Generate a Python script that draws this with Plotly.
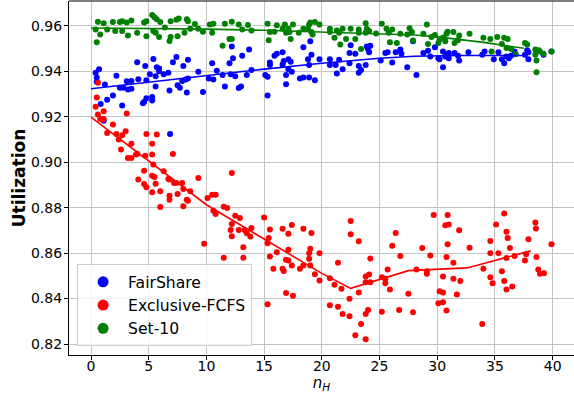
import plotly.graph_objects as go

# ---------------- data ----------------
fair_x = [0.4,0.7,0.5,0.5,1.2,1.9,1.4,2.2,2.5,2.8,3.1,3.2,3.5,3.5,4.0,4.1,4.7,4.8,4.8,5.3,5.1,5.4,5.6,5.6,5.7,5.9,5.9,6.3,6.7,6.8,7.1,7.4,7.5,7.7,7.9,8.0,8.2,8.3,8.4,8.4,9.3,9.7,10.5,10.2,10.6,10.9,11.4,11.6,12.0,12.1,12.2,12.3,12.5,12.8,13.0,13.1,
          0.84,2.7,4.5,4.6,5.3,1.1,6.85,
          13.7,13.5,13.9,15.1,15.3,15.3,15.5,15.5,15.9,16.1,16.6,16.6,16.7,16.9,16.9,17.1,17.3,17.1,17.4,18.1,18.4,18.4,18.8,18.9,19.0,19.1,18.9,19.4,19.8,20.7,20.7,21.2,21.3,21.5,21.8,22.4,22.5,22.4,22.9,23.2,23.2,23.4,23.8,23.9,24.0,24.2,24.1,25.1,25.5,25.7,26.1,26.4,26.8,26.9,27.4,27.9,
          28.2,28.8,29.2,29.4,29.8,30.1,30.2,30.5,30.5,30.7,30.8,31.0,31.0,31.5,31.8,31.9,32.7,33.9,34.1,34.9,35.3,35.6,35.8,36.0,36.2,36.4,36.7,37.6,37.8,37.9,37.9,39.2,39.9]
fair_y = [0.9394,0.9410,0.9373,0.9354,0.9342,0.9294,0.9275,0.9381,0.9328,0.9328,0.9357,0.9320,0.9358,0.9324,0.9440,0.9366,0.9424,0.9361,0.9282,0.9287,0.9388,0.9455,0.9334,0.9379,0.9418,0.9413,0.9401,0.9388,0.9394,0.9316,0.9440,0.9463,0.9339,0.9328,0.9358,0.9424,0.9364,0.9307,0.9451,0.9369,0.9399,0.9309,0.9436,0.9369,0.9364,0.9403,0.9384,0.9334,0.9436,0.9388,0.9510,0.9458,0.9379,0.9327,0.9334,0.9469,
          0.9257,0.9250,0.9260,0.9265,0.9272,0.9183,0.9125,
          0.9496,0.9384,0.9406,0.9384,0.9376,0.9294,0.9439,0.9428,0.9469,0.9478,0.9484,0.9431,0.9446,0.9343,0.9384,0.9454,0.9443,0.9409,0.9399,0.9369,0.9373,0.9506,0.9454,0.9428,0.9533,0.9473,0.9373,0.9361,0.9454,0.9454,0.9428,0.9428,0.9391,0.9451,0.9409,0.9481,0.9515,0.9436,0.9478,0.9424,0.9394,0.9406,0.9428,0.9510,0.9499,0.9513,0.9484,0.9448,0.9481,0.9484,0.9439,0.9484,0.9496,0.9478,0.9418,0.9533,
          0.9384,0.9481,0.9491,0.9466,0.9506,0.9458,0.9454,0.9488,0.9418,0.9466,0.9473,0.9481,0.9458,0.9481,0.9469,0.9448,0.9484,0.9473,0.9488,0.9454,0.9484,0.9454,0.9436,0.9466,0.9458,0.9469,0.9488,0.9473,0.9493,0.9454,0.9484,0.9473,0.9488]

excl_x = [0.6,0.5,0.4,0.6,0.8,1.1,1.1,1.0,1.9,1.4,2.2,2.4,2.7,2.6,3.0,3.1,3.2,3.5,3.5,3.9,4.0,4.7,4.8,5.3,5.7,5.3,4.6,4.1,4.6,4.8,5.3,5.5,5.4,5.6,5.3,6.0,6.3,6.7,6.8,7.1,7.2,7.4,7.9,8.0,7.5,6.8,6.8,8.3,8.4,8.6,9.3,6.0,8.0,10.1,10.5,10.8,12.2,
          11.5,11.8,10.6,10.8,12.5,12.9,12.2,12.1,12.8,13.3,13.9,13.5,13.8,12.2,9.8,13.2,11.5,13.2,15.0,15.5,15.4,15.3,15.5,16.1,15.8,16.6,16.7,16.6,17.1,17.4,17.1,16.9,17.1,17.4,16.9,17.5,15.3,18.1,18.4,18.4,19.1,18.9,19.0,18.9,19.0,19.4,19.8,19.8,20.7,21.1,20.7,21.4,21.4,
          21.7,21.8,22.4,22.4,22.5,22.5,23.2,23.2,23.4,22.9,23.8,23.8,24.0,23.8,24.1,23.8,24.2,24.2,25.2,25.5,25.5,25.7,25.9,25.2,26.1,26.4,26.8,26.7,27.5,27.9,28.2,28.7,29.1,29.1,29.4,29.7,30.1,30.2,30.5,30.5,30.5,30.8,30.8,30.7,30.9,31.0,30.9,31.4,31.4,31.7,32.0,31.9,32.8,
          33.9,34.0,34.6,34.6,34.8,34.6,35.1,35.3,35.6,35.8,35.8,36.0,36.0,36.1,36.0,36.3,36.5,36.7,37.6,37.9,37.7,38.5,38.55,38.6,38.75,38.9,39.25,39.9]
excl_y = [0.9350,0.9285,0.9244,0.9210,0.9191,0.9225,0.9191,0.9188,0.9166,0.9129,0.9125,0.9100,0.9119,0.9056,0.9137,0.9215,0.9019,0.9019,0.9082,0.9034,0.9038,0.9029,0.9125,0.9082,0.9122,0.9034,0.8963,0.8924,0.8904,0.8890,0.8941,0.8935,0.8990,0.8906,0.8868,0.8872,0.8960,0.8926,0.8924,0.9037,0.8909,0.8909,0.8909,0.8882,0.8860,0.8853,0.8835,0.8835,0.8831,0.8872,0.8931,0.8803,0.8806,0.8843,0.8857,0.8857,0.8953,
          0.8804,0.8799,0.8787,0.8772,0.8765,0.8755,0.8728,0.8702,0.8702,0.8702,0.8711,0.8688,0.8673,0.8674,0.8641,0.8626,0.8580,0.8580,0.8757,0.8704,0.8667,0.8644,0.8585,0.8604,0.8531,0.8531,0.8521,0.8707,0.8685,0.8724,0.8615,0.8571,0.8568,0.8546,0.8425,0.8412,0.8375,0.8531,0.8546,0.8707,0.8689,0.8600,0.8619,0.8575,0.8546,0.8507,0.8600,0.8480,0.8490,0.8461,0.8371,0.8364,0.8558,
          0.8443,0.8332,0.8399,0.8322,0.8741,0.8683,0.8652,0.8427,0.8288,0.8238,0.8221,0.8332,0.8350,0.8497,0.8506,0.8472,0.8472,0.8576,0.8494,0.8487,0.8468,0.8528,0.8440,0.8342,0.8632,0.8689,0.8587,0.8350,0.8421,0.8340,0.8528,0.8623,0.8520,0.8509,0.8590,0.8768,0.8379,0.8432,0.8427,0.8384,0.8497,0.8347,0.8583,0.8723,0.8768,0.8726,0.8639,0.8558,0.8487,0.8418,0.8477,0.8701,0.8624,
          0.8288,0.8531,0.8654,0.8494,0.8468,0.8600,0.8726,0.8600,0.8520,0.8775,0.8477,0.8440,0.8694,0.8667,0.8579,0.8623,0.8453,0.8587,0.8568,0.8661,0.8595,0.8735,0.8708,0.8583,0.8528,0.8509,0.8512,0.8639]

set10_x = [0.6,1.1,1.9,2.5,2.7,3.1,3.5,4.6,4.8,5.3,5.5,5.7,6.0,6.9,7.4,7.6,8.3,8.4,9.0,
           0.4,0.8,0.5,1.4,2.1,2.7,3.2,4.0,4.8,5.4,5.6,5.9,6.4,6.9,6.8,7.5,8.1,8.6,9.3,9.7,10.5,10.3,10.6,11.4,12.0,12.2,11.6,12.2,12.8,13.1,
           13.6,13.9,15.3,15.5,16.1,15.9,16.6,16.8,16.9,17.1,17.5,17.2,17.3,15.4,18.0,18.4,18.9,19.0,19.4,19.8,18.8,19.1,19.2,20.7,20.7,21.3,21.5,21.8,21.1,21.6,22.1,22.5,22.9,23.2,23.2,23.4,23.8,23.9,23.8,24.1,24.7,25.2,25.6,25.8,26.1,25.9,26.5,26.8,27.4,27.8,27.9,
           27.6,28.8,29.1,29.2,29.5,29.8,30.1,30.2,30.5,30.7,30.8,30.9,31.4,31.5,31.8,31.9,32.8,34.0,34.6,34.7,35.2,35.6,35.8,36.0,36.1,36.4,36.8,37.6,37.8,38.5,38.8,38.6,38.6,38.9,39.2,39.9,38.5]
set10_y = [0.9619,0.9612,0.9618,0.9618,0.9621,0.9615,0.9624,0.9615,0.9621,0.9648,0.9639,0.9630,0.9618,0.9621,0.9627,0.9633,0.9630,0.9621,0.9609,
           0.9585,0.9563,0.9528,0.9585,0.9578,0.9578,0.9558,0.9570,0.9555,0.9578,0.9570,0.9552,0.9593,0.9552,0.9534,0.9555,0.9570,0.9588,0.9588,0.9575,0.9570,0.9607,0.9610,0.9513,0.9543,0.9543,0.9610,0.9619,0.9607,0.9585,
           0.9604,0.9580,0.9610,0.9573,0.9603,0.9575,0.9588,0.9607,0.9570,0.9588,0.9606,0.9573,0.9543,0.9537,0.9570,0.9588,0.9607,0.9615,0.9618,0.9606,0.9588,0.9573,0.9563,0.9588,0.9573,0.9580,0.9570,0.9588,0.9548,0.9518,0.9543,0.9588,0.9543,0.9585,0.9570,0.9499,0.9612,0.9588,0.9570,0.9578,0.9567,0.9610,0.9588,0.9570,0.9585,0.9528,0.9525,0.9566,0.9563,0.9573,0.9536,
           0.9590,0.9566,0.9607,0.9521,0.9552,0.9560,0.9525,0.9540,0.9548,0.9533,0.9566,0.9575,0.9573,0.9525,0.9537,0.9558,0.9566,0.9548,0.9543,0.9488,0.9552,0.9521,0.9548,0.9503,0.9543,0.9499,0.9476,0.9525,0.9518,0.9496,0.9493,0.9448,0.9396,0.9488,0.9478,0.9488,0.9473]

# trend lines
fair_line_x = [0, 5, 10, 15, 20, 25, 28, 32, 37.6]
fair_line_y = [0.9324, 0.9353, 0.9383, 0.9410, 0.9436, 0.9458, 0.9467, 0.9470, 0.9470]
excl_line_x = [0, 5, 10, 15, 20, 22.5, 27.5, 32.6, 38.1]
excl_line_y = [0.9199, 0.9004, 0.8813, 0.8662, 0.8511, 0.8445, 0.8523, 0.8535, 0.8610]
set10_line_x = [0, 5, 10, 15, 20, 25, 28, 30, 34, 37.5]
set10_line_y = [0.9591, 0.9590, 0.9586, 0.9581, 0.9573, 0.9565, 0.9560, 0.9552, 0.9528, 0.9502]

names = ["FairShare", "Exclusive-FCFS", "Set-10"]
colors = ["#0000ff", "#ff0000", "#008000"]

x_ticks = [0, 5, 10, 15, 20, 25, 30, 35, 40]
y_ticks = [0.82, 0.84, 0.86, 0.88, 0.90, 0.92, 0.94, 0.96]

# ---------------- figure ----------------
fig = go.Figure()
series = [(fair_x, fair_y, fair_line_x, fair_line_y),
          (excl_x, excl_y, excl_line_x, excl_line_y),
          (set10_x, set10_y, set10_line_x, set10_line_y)]

for (sx, sy, lx, ly), name, col in zip(series, names, colors):
    fig.add_trace(go.Scatter(x=sx, y=sy, mode="markers", showlegend=False,
                             marker=dict(color=col, size=6, line=dict(width=0))))
for (sx, sy, lx, ly), name, col in zip(series, names, colors):
    fig.add_trace(go.Scatter(x=lx, y=ly, mode="lines", showlegend=False,
                             line=dict(color=col, width=1.6)))
for name, col in zip(names, colors):
    fig.add_trace(go.Scatter(x=[None], y=[None], mode="markers", name=name,
                             marker=dict(color=col, size=11)))

font_family = "DejaVu Sans"
fig.update_layout(
    width=574, height=395,
    margin=dict(l=69, r=0, t=1, b=40),
    plot_bgcolor="white", paper_bgcolor="white",
    font=dict(family=font_family, size=14, color="black"),
    showlegend=True,
    legend=dict(x=0.016, y=0.025, xanchor="left", yanchor="bottom",
                bgcolor="rgba(255,255,255,0.8)", bordercolor="#cccccc", borderwidth=1,
                font=dict(family=font_family, size=15.6, color="black"),
                itemwidth=40, tracegroupgap=0),
)
fig.update_xaxes(range=[-1.906, 41.85], tickmode="array", tickvals=x_ticks,
                 ticktext=[str(v) for v in x_ticks],
                 showgrid=True, gridcolor="#c4c4c4", gridwidth=1.3,
                 showline=True, linecolor="black", linewidth=1.2, mirror=False,
                 ticks="outside", ticklen=4, tickcolor="black", tickwidth=1,
                 ticklabelstandoff=-6,
                 zeroline=False,
                 title=dict(text="<i>n<sub>H</sub></i>", font=dict(size=15), standoff=0))
fig.update_yaxes(range=[0.81516, 0.9710], tickmode="array", tickvals=y_ticks,
                 ticktext=["%.2f" % v for v in y_ticks],
                 showgrid=True, gridcolor="#c4c4c4", gridwidth=1.3,
                 showline=True, linecolor="black", linewidth=1.2,
                 ticks="outside", ticklen=4, tickcolor="black", tickwidth=1,
                 ticklabelstandoff=-1,
                 zeroline=False,
                 title=dict(text="<b>Utilization</b>", font=dict(size=17), standoff=0))
# top spine
fig.add_shape(type="line", xref="paper", yref="paper", x0=0, x1=1, y0=1, y1=1,
              line=dict(color="black", width=1.2))

fig.write_html("out.html")
